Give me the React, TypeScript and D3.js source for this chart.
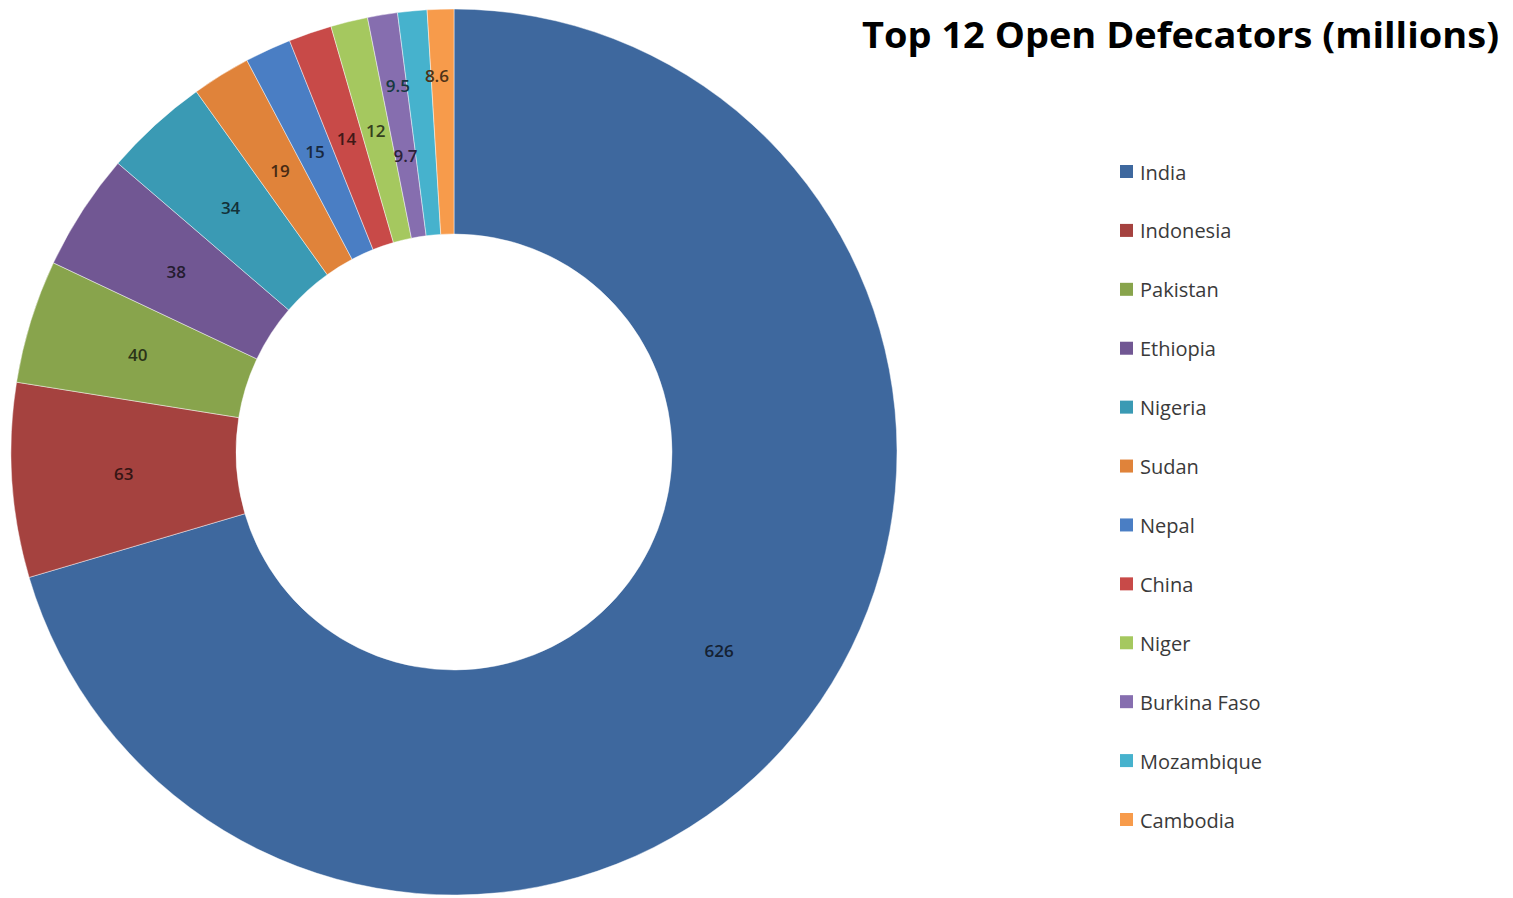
import React from "react";
import * as d3 from "d3";

const countries = ["India", "Indonesia", "Pakistan", "Ethiopia", "Nigeria", "Sudan", "Nepal", "China", "Niger", "Burkina Faso", "Mozambique", "Cambodia"];
const values = [626, 63, 40, 38, 34, 19, 15, 14, 12, 9.7, 9.5, 8.6];
const valueLabels = ["626", "63", "40", "38", "34", "19", "15", "14", "12", "9.7", "9.5", "8.6"];
const colors = ["#3e689e", "#a5423f", "#88a44c", "#715793", "#3a9ab4", "#e0833a", "#4a7ec4", "#c84a48", "#a5c85f", "#866eaf", "#46b2cd", "#f79b4b"];
const labelNudges: [number, number][] = [[0, 0], [0, 0], [0, 0], [0, 0], [0, 0], [0, 0], [0, 0], [0, 0], [0, 0], [5, 30], [-25, -37], [-7, -46]];
const title = "Top 12 Open Defecators (millions)";

export default function App() {
  const W = 1513, H = 898;
  const cx = 454, cy = 452, outerR = 443, innerR = 218, labelR = 331;
  const data = countries.map((c, i) => ({ country: c, value: values[i], label: valueLabels[i], color: colors[i], nudge: labelNudges[i] }));
  const pie = d3.pie<any>().value((d) => d.value).sort(null).startAngle(0).endAngle(2 * Math.PI);
  const arcs = pie(data);
  const arc = d3.arc<any>().innerRadius(innerR).outerRadius(outerR);
  const labelArc = d3.arc<any>().innerRadius(labelR).outerRadius(labelR);
  const legendY = d3.scalePoint<string>().domain(countries).range([172, 820]);
  const font = "'Open Sans', 'Liberation Sans', sans-serif";
  return (
    <svg width={W} height={H} style={{ position: "absolute", left: 0, top: 0, background: "#fff" }}>
      <g transform={`translate(${cx},${cy})`}>
        {arcs.map((a, i) => (
          <path key={i} d={arc(a) as string} fill={a.data.color} stroke="#ffffff" strokeOpacity={0.45} strokeWidth={1} />
        ))}
        {arcs.map((a, i) => {
          const [x, y] = labelArc.centroid(a);
          return (
            <text key={"l" + i} x={x + a.data.nudge[0]} y={y + a.data.nudge[1]} textAnchor="middle" dominantBaseline="central"
              fontFamily={font} fontSize={17} fontWeight={600} fill={d3.color(a.data.color)!.darker(3.2).formatHex()}>
              {a.data.label}
            </text>
          );
        })}
      </g>
      <text x={1499} y={48} textAnchor="end" fontFamily={font} fontSize={36} fontWeight={700} fill="#000" textLength={637} lengthAdjust="spacingAndGlyphs">
        {title}
      </text>
      {countries.map((c, i) => (
        <g key={c} transform={`translate(1120,${legendY(c)})`}>
          <rect x={0} y={-7} width={13} height={13} fill={colors[i]} />
          <text x={20} y={0} dominantBaseline="central" fontFamily={font} fontSize={20} fill="#3a3a3a">{c}</text>
        </g>
      ))}
    </svg>
  );
}
